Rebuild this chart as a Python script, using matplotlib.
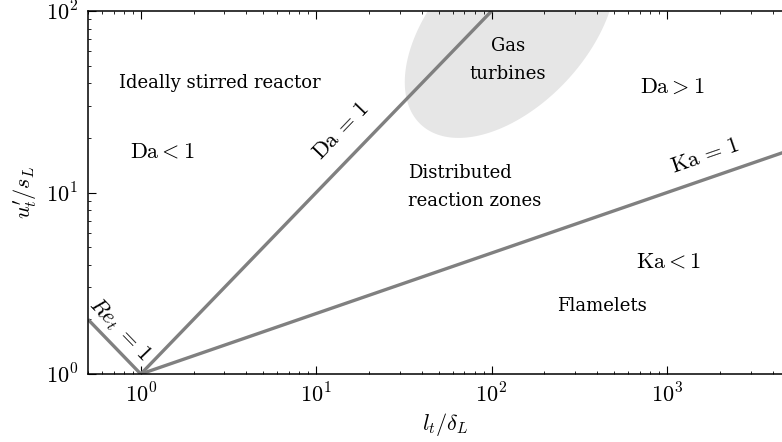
import numpy as np
import matplotlib
matplotlib.use("Agg")
import matplotlib.pyplot as plt
from matplotlib.ticker import FuncFormatter

plt.rcParams["mathtext.fontset"] = "cm"
plt.rcParams["font.family"] = "DejaVu Serif"

# regime boundaries (l_t/delta_L ranges)
re_x = [0.5, 1.0]
da_x = [1.0, 100.0]
ka_x = [1.0, 6000.0]

# gas turbine region: centre and semi-axes in decades, tilt in degrees
gt_center = (np.log10(128.0), np.log10(80.0))
gt_axes = (0.735, 0.43)
gt_tilt = 45.0

line_color = "#808080"

fig = plt.figure(figsize=(7.82, 4.42), dpi=100)
# right spine sits just past the figure edge
ax = fig.add_axes([0.1125, 0.1538, 0.915, 0.8212])
ax.set_xscale("log")
ax.set_yscale("log")
ax.set_xlim(0.5, 6000)
ax.set_ylim(1, 100)

# gas turbine ellipse, built in log space
t = np.linspace(0, 2 * np.pi, 300)
th = np.deg2rad(gt_tilt)
ex = gt_center[0] + gt_axes[0] * np.cos(t) * np.cos(th) - gt_axes[1] * np.sin(t) * np.sin(th)
ey = gt_center[1] + gt_axes[0] * np.cos(t) * np.sin(th) + gt_axes[1] * np.sin(t) * np.cos(th)
ax.fill(10 ** ex, 10 ** ey, color="#e6e6e6", lw=0, zorder=1)

xr = np.array(re_x)
xd = np.array(da_x)
xk = np.logspace(0, np.log10(ka_x[1]), 200)
ax.plot(xr, 1.0 / xr, color=line_color, lw=2.4, zorder=2, solid_capstyle="butt")
ax.plot(xd, xd, color=line_color, lw=2.4, zorder=2, solid_capstyle="butt")
ax.plot(xk, xk ** (1.0 / 3.0), color=line_color, lw=2.4, zorder=2, solid_capstyle="butt")

fs = 13   # region names
ms = 16   # math labels


def put(px, py, s, **kw):
    # place text by pixel position (origin top-left)
    ax.text(px / 782, 1 - py / 442, s, transform=fig.transFigure,
            ha=kw.pop("ha", "center"), va=kw.pop("va", "center"), **kw)


put(220, 83, "Ideally stirred reactor", fontsize=fs)
put(162, 152, r"$\mathrm{Da} < 1$", fontsize=ms)
put(341, 131, r"$\mathrm{Da}\,=\,1$", fontsize=ms, rotation=46, rotation_mode="anchor")
put(508, 60, "Gas\nturbines", fontsize=fs, linespacing=1.7)
put(672, 87, r"$\mathrm{Da} > 1$", fontsize=ms)
put(408, 187, "Distributed\nreaction zones", fontsize=fs, ha="left", linespacing=1.65)
put(705, 156, r"$\mathrm{Ka}\,=\,1$", fontsize=ms, rotation=19, rotation_mode="anchor")
put(668, 261, r"$\mathrm{Ka} < 1$", fontsize=ms)
put(602, 306, "Flamelets", fontsize=fs)
put(120, 330, r"$Re_t\;=\,1$", fontsize=ms, rotation=-46, rotation_mode="anchor")

ax.set_xlabel(r"$l_t/\delta_L$", fontsize=ms, labelpad=2)
ax.set_ylabel(r"$u_t'/s_L$", fontsize=ms, labelpad=5)

pow10 = FuncFormatter(lambda v, pos: r"$10^{%d}$" % round(np.log10(v)))
ax.xaxis.set_major_formatter(pow10)
ax.yaxis.set_major_formatter(pow10)

ax.tick_params(which="both", direction="in", top=True, right=True, labelsize=ms)
ax.tick_params(which="major", length=5.5, width=0.8, pad=7)
ax.tick_params(which="minor", length=2.5, width=0.6)
for sp in ax.spines.values():
    sp.set_linewidth(1.1)

fig.savefig("out.png", dpi=100)
